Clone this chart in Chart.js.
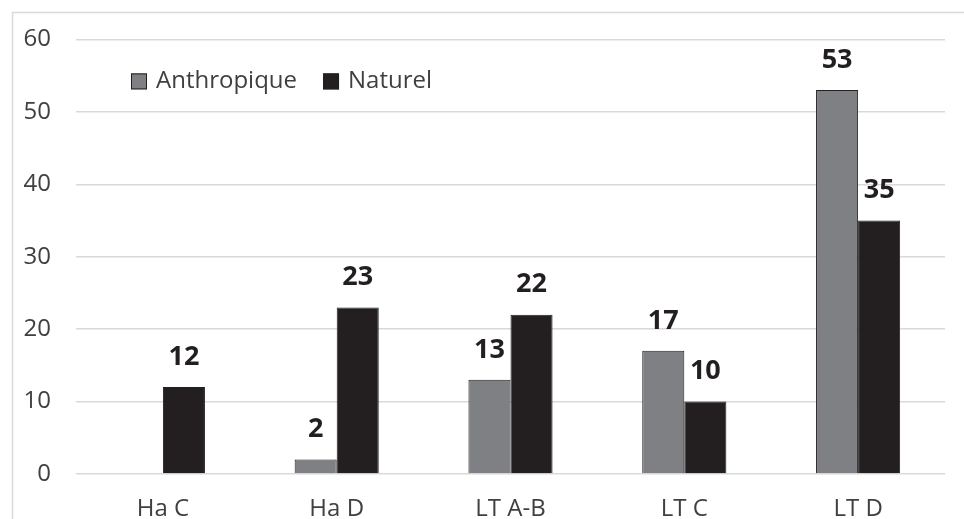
<!DOCTYPE html>
<html>
<head>
<meta charset="utf-8">
<script src="https://cdn.jsdelivr.net/npm/chart.js@4"></script>
<style>
  html, body { margin: 0; padding: 0; background: #fff; }
  #wrap { width: 964px; height: 519px; }
</style>
</head>
<body>
<div id="wrap"><canvas id="periodChart" width="964" height="519"></canvas></div>
<script>
const categories = ['Ha C', 'Ha D', 'LT A-B', 'LT C', 'LT D'];
const anthropique = [0, 2, 13, 17, 53];
const naturel = [12, 23, 22, 10, 35];
const yTicks = [0, 10, 20, 30, 40, 50, 60];

const FONT = '"Open Sans", "DejaVu Sans", sans-serif';
const TEXT = '#404040';
const DARK = '#231f20';

// frame around the whole figure (only left/top visible in the original)
const framePlugin = {
    id: 'frame',
    beforeDraw(chart) {
        const c = chart.ctx;
        c.save();
        c.fillStyle = '#fff';
        c.fillRect(0, 0, chart.width, chart.height);
        c.strokeStyle = '#d9d9d9';
        c.lineWidth = 1.5;
        c.strokeRect(12.5, 12.5, chart.width, chart.height);
        c.restore();
    }
};

// value labels above the bars
const valueLabels = {
    id: 'valueLabels',
    afterDatasetsDraw(chart) {
        const c = chart.ctx;
        c.save();
        c.font = 'bold 27px ' + FONT;
        c.fillStyle = DARK;
        c.textAlign = 'center';
        c.textBaseline = 'middle';
        chart.data.datasets.forEach((ds, i) => {
            chart.getDatasetMeta(i).data.forEach((bar, j) => {
                if (!ds.data[j]) return;
                c.fillText(ds.data[j], bar.x, bar.y - 30);
            });
        });
        c.restore();
    }
};

// legend drawn inside the plot area, top-left
const innerLegend = {
    id: 'innerLegend',
    afterDraw(chart) {
        const c = chart.ctx;
        const area = chart.chartArea;
        let x = area.left + 55;
        const y = area.top + 42;
        c.save();
        c.font = '24px ' + FONT;
        c.textBaseline = 'middle';
        chart.data.datasets.forEach(ds => {
            c.fillStyle = ds.backgroundColor;
            c.fillRect(x, y - 8, 16, 16);
            c.strokeStyle = DARK;
            c.lineWidth = 1;
            c.strokeRect(x + 0.5, y - 7.5, 15, 15);
            c.fillStyle = TEXT;
            c.fillText(ds.label, x + 25, y);
            x += 25 + c.measureText(ds.label).width + 26;
        });
        c.restore();
    }
};

new Chart(document.getElementById('periodChart').getContext('2d'), {
    type: 'bar',
    data: {
        labels: categories,
        datasets: [
            {
                label: 'Anthropique',
                data: anthropique,
                backgroundColor: '#7f8084',
                borderColor: DARK,
                borderWidth: 1
            },
            {
                label: 'Naturel',
                data: naturel,
                backgroundColor: DARK,
                borderColor: DARK,
                borderWidth: 1
            }
        ]
    },
    options: {
        responsive: false,
        animation: false,
        events: [],
        datasets: {
            bar: { barPercentage: 1, categoryPercentage: 0.484 }
        },
        layout: { padding: { top: 27, right: 19, bottom: 0, left: 0 } },
        plugins: {
            legend: { display: false },
            tooltip: { enabled: false }
        },
        scales: {
            x: {
                grid: { display: false },
                border: { display: false },
                ticks: { color: TEXT, font: { family: FONT, size: 24 }, padding: 13 },
                afterFit(scale) { scale.height = 45; }
            },
            y: {
                min: 0,
                max: 60,
                afterBuildTicks(scale) { scale.ticks = yTicks.map(v => ({ value: v })); },
                grid: { color: '#d9d9d9', lineWidth: 1.5, drawTicks: false },
                border: { display: false },
                ticks: { color: TEXT, font: { family: FONT, size: 24 }, padding: 25 },
                afterFit(scale) { scale.width = 76; }
            }
        }
    },
    plugins: [framePlugin, valueLabels, innerLegend]
});
</script>
</body>
</html>
